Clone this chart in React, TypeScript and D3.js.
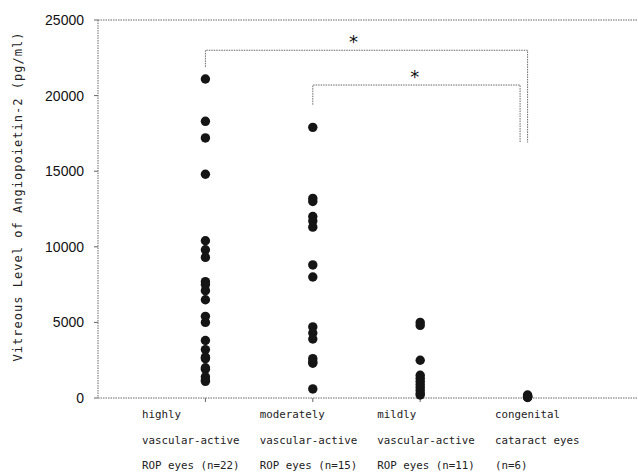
import React, { useEffect, useRef } from "react";
import * as d3 from "d3";

// category label lines
const labelLines = [
  ["highly", "vascular-active", "ROP eyes (n=22)"],
  ["moderately", "vascular-active", "ROP eyes (n=15)"],
  ["mildly", "vascular-active", "ROP eyes (n=11)"],
  ["congenital", "cataract eyes", "(n=6)"],
];

const highly = [21100, 18300, 17200, 14800, 10400, 9800, 9300, 7700, 7500, 7100, 6500, 5400, 5000, 3800, 3200, 2700, 2600, 2000, 1900, 1400, 1200, 1100];
const moderately = [17900, 13200, 13000, 12000, 11700, 11300, 8800, 8000, 4700, 4300, 3900, 2600, 2400, 2300, 600];
const mildly = [5000, 4800, 2500, 1500, 1300, 1100, 900, 700, 500, 300, 200];
const congenital = [200, 150, 100, 80, 50, 30];

const groups = [highly, moderately, mildly, congenital];
const yTicks = [0, 5000, 10000, 15000, 20000, 25000];
const yTitle = "Vitreous Level of Angiopoietin-2 (pg/ml)";

export default function App() {
  const ref = useRef<SVGSVGElement>(null);

  useEffect(() => {
    document.body.style.margin = "0";
    const W = 638, H = 473;
    const left = 98, right = 637, top = 20, bottom = 398;

    const x = d3.scaleLinear().domain([0, 5]).range([left, left + 537]);
    const y = d3.scaleLinear().domain([0, 25000]).range([bottom, top]);

    const svg = d3.select(ref.current);
    svg.selectAll("*").remove();
    svg.attr("width", W).attr("height", H);

    const dash = "1.5,1";
    const gray = "#666";

    // frame lines
    svg.append("line")
      .attr("x1", left).attr("x2", right).attr("y1", top).attr("y2", top)
      .attr("stroke", gray).attr("stroke-dasharray", dash);
    svg.append("line")
      .attr("x1", left).attr("x2", right).attr("y1", bottom).attr("y2", bottom)
      .attr("stroke", gray).attr("stroke-dasharray", dash);
    svg.append("line")
      .attr("x1", left).attr("x2", left).attr("y1", top).attr("y2", bottom)
      .attr("stroke", gray).attr("stroke-dasharray", dash);

    // y ticks
    const yg = svg.append("g");
    yTicks.forEach(t => {
      yg.append("line")
        .attr("x1", left - 4).attr("x2", left).attr("y1", y(t)).attr("y2", y(t))
        .attr("stroke", gray);
      yg.append("text")
        .attr("x", 84).attr("y", y(t)).attr("dy", "0.35em")
        .attr("text-anchor", "end")
        .attr("font-family", "Liberation Sans, Arial, sans-serif")
        .attr("font-size", 14)
        .attr("fill", "#111")
        .text(t);
    });

    svg.append("text")
      .attr("transform", `translate(22,${(top + bottom) / 2 - 12}) rotate(-90)`)
      .attr("text-anchor", "middle")
      .attr("font-family", "DejaVu Sans Mono, monospace")
      .attr("font-size", 12)
      .attr("textLength", 329)
      .attr("lengthAdjust", "spacing")
      .attr("fill", "#222")
      .text(yTitle);

    // x ticks + labels
    const labelX = d3.scaleLinear().domain([0, 3]).range([142, 495]);
    groups.forEach((g, i) => {
      svg.append("line")
        .attr("x1", x(i + 1)).attr("x2", x(i + 1))
        .attr("y1", bottom).attr("y2", bottom + 4)
        .attr("stroke", gray);
      labelLines[i].forEach((s, j) => {
        svg.append("text")
          .attr("x", labelX(i)).attr("y", 418 + j * 25.5)
          .attr("font-family", "DejaVu Sans Mono, monospace")
          .attr("font-size", 10.8)
          .attr("fill", "#222")
          .text(s);
      });
    });

    // significance brackets
    const brackets = [
      { from: 1, to: 4, top: 23000, leftEnd: 21900, rightEnd: 16900, star: 2.38 },
      { from: 2, to: 3.93, top: 20700, leftEnd: 19400, rightEnd: 16900, star: 2.95 },
    ];
    brackets.forEach(b => {
      svg.append("path")
        .attr("d", `M${x(b.from)},${y(b.leftEnd)}V${y(b.top)}H${x(b.to)}V${y(b.rightEnd)}`)
        .attr("fill", "none")
        .attr("stroke", gray)
        .attr("stroke-dasharray", dash);
      svg.append("text")
        .attr("x", x(b.star)).attr("y", y(b.top) - 2)
        .attr("text-anchor", "middle")
        .attr("font-family", "DejaVu Sans, sans-serif")
        .attr("font-size", 18)
        .attr("fill", "#111")
        .text("*");
    });

    // dots
    groups.forEach((g, i) => {
      svg.append("g").selectAll("circle")
        .data(g)
        .enter()
        .append("circle")
        .attr("cx", x(i + 1))
        .attr("cy", d => y(d))
        .attr("r", 4.7)
        .attr("fill", "#151515");
    });
  }, []);

  return <svg ref={ref} style={{ display: "block" }} />;
}
